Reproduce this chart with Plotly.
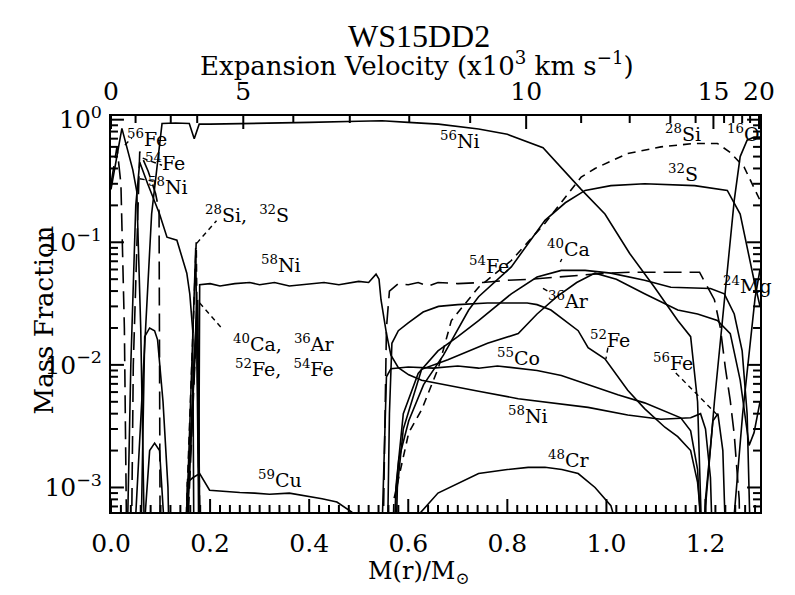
import math
import plotly.graph_objects as go

# ---- abundances: mass coordinate M(r)/Msun and mass fraction (None = gap) ----
m_ni56 = [0.045, 0.05, 0.082, 0.103, 0.13, 0.158, 0.168, 0.178, 0.2, 0.3, 0.4, 0.5, 0.547, 0.6,
          0.661, 0.742, 0.8, 0.872, 0.949, 0.997, 1.047, 1.097, 1.144, 1.17, 1.184, 1.191, 1.196]
x_ni56 = [1e-4, 6e-4, 0.17, 0.93, 0.94, 0.93, 0.7, 0.92, 0.92, 0.93, 0.95, 0.97, 0.98, 0.95,
          0.92, 0.84, 0.76, 0.59, 0.27, 0.17, 0.081, 0.043, 0.023, 0.017, 0.005, 0.0006, 1e-4]

m_fe56 = [0.0, 0.022, 0.044, 0.052, 0.06, 0.066, 0.07, None,
          1.19, 1.2, 1.215, 1.225, 1.235, 1.245]
x_fe56 = [0.27, 0.85, 0.39, 0.26, 0.02, 6e-4, 1e-4, None,
          1e-4, 0.0008, 0.0035, 0.004, 0.002, 1e-4]

m_fe54 = [0.0, 0.012, 0.02, 0.027, 0.031, 0.033, None,
          0.04, 0.045, 0.058, 0.075, 0.09, 0.097, 0.099, 0.1, None,
          0.156, 0.174, 0.179, None,
          0.547, 0.55, 0.556, 0.562, 0.58, 0.6, 0.62, 0.64, 0.66, 0.7, 0.75, 0.8, 0.85, 0.9,
          0.95, 1.0, 1.05, 1.1, 1.15, 1.188, 1.218, 1.23, 1.24, 1.25, 1.258, 1.268, 1.272]
x_fe54 = [0.3, 0.6, 0.3, 0.02, 6e-4, 1e-4, None,
          1e-4, 0.01, 0.55, 0.38, 0.25, 0.18, 6e-4, 1e-4, None,
          6e-4, 0.028, 6e-4, None,
          1e-4, 6e-4, 0.02, 0.04, 0.046, 0.045, 0.047, 0.044, 0.047, 0.046, 0.047, 0.049, 0.05, 0.052,
          0.054, 0.056, 0.057, 0.057, 0.057, 0.057, 0.034, 0.02, 0.0095, 0.0051, 0.0027, 0.0008, 1e-4]

m_ni58 = [0.03, 0.04, 0.05, 0.058, 0.074, 0.098, 0.113, 0.133, 0.153, 0.159, 0.165, 0.168, None,
          0.176, 0.179, 0.2, 0.22, 0.25, 0.28, 0.3, 0.33, 0.36, 0.4, 0.43, 0.46, 0.5, 0.52, 0.535,
          0.541, 0.545, 0.556, 0.565, 0.58, 0.601, 0.627, 0.695, 0.742, 0.822, 0.963, 1.043, 1.11,
          1.17, 1.19, 1.2, 1.21, 1.218]
x_ni58 = [1e-4, 0.01, 0.2, 0.45, 0.3, 0.17, 0.11, 0.104, 0.056, 0.038, 0.019, 1e-4, None,
          1e-4, 0.045, 0.046, 0.044, 0.046, 0.047, 0.045, 0.047, 0.044, 0.046, 0.047, 0.045, 0.048, 0.047, 0.055,
          0.05, 0.034, 0.018, 0.012, 0.0095, 0.0083, 0.0075, 0.0066, 0.0061, 0.0053, 0.0045, 0.0039, 0.0036,
          0.0037, 0.004, 0.003, 0.0012, 1e-4]

m_co55 = [0.058, 0.062, 0.068, 0.078, 0.088, 0.094, 0.105, 0.115, 0.12, None,
          0.545, 0.548, 0.556, 0.565, 0.6, 0.65, 0.7, 0.742, 0.78, 0.808, 0.86, 0.909, 0.96, 1.023,
          1.077, 1.118, 1.15, 1.17, 1.184, 1.19, 1.194]
x_co55 = [1e-4, 6e-4, 0.017, 0.02, 0.019, 0.016, 0.005, 0.001, 1e-4, None,
          1e-4, 6e-4, 0.008, 0.0093, 0.0096, 0.0094, 0.0098, 0.0094, 0.0098, 0.0095, 0.009, 0.0082, 0.007, 0.0057,
          0.0049, 0.0042, 0.0037, 0.0029, 0.0014, 0.0005, 1e-4]

m_cu59 = [0.066, 0.069, 0.078, 0.088, 0.098, 0.106, 0.11, None,
          0.15, 0.152, 0.154, 0.165, 0.179, 0.199, 0.225, 0.26, 0.29, 0.32, 0.36, 0.39, 0.426, 0.456,
          0.486, 0.52]
x_cu59 = [1e-4, 6e-4, 0.002, 0.0023, 0.002, 6e-4, 1e-4, None,
          1e-4, 6e-4, 0.0011, 0.0012, 0.0013, 0.00095, 0.00093, 0.00091, 0.0009, 0.00088, 0.0009, 0.00086,
          0.00081, 0.00076, 0.00063, 0.0003]

m_cr48 = [0.614, 0.621, 0.66, 0.695, 0.742, 0.8, 0.842, 0.876, 0.91, 0.943, 0.977, 1.009, 1.02, 1.03]
x_cr48 = [1e-4, 0.0006, 0.0009, 0.00105, 0.0013, 0.0014, 0.00146, 0.00146, 0.0014, 0.0013, 0.001,
          0.00071, 0.0005, 1e-4]

m_fe52 = [0.153, 0.174, 0.178, None,
          0.556, 0.562, 0.567, 0.58, 0.6, 0.63, 0.661, 0.7, 0.76, 0.84, 0.86, 0.888, 0.943, 0.963,
          0.997, 1.043, 1.077, 1.118, 1.144, 1.17, 1.184, 1.19, 1.195]
x_fe52 = [6e-4, 0.032, 6e-4, None,
          1e-4, 0.004, 0.015, 0.019, 0.022, 0.027, 0.03, 0.031, 0.032, 0.032, 0.031, 0.028, 0.019, 0.0138,
          0.0112, 0.0062, 0.0044, 0.0031, 0.0026, 0.002, 0.0011, 0.0006, 1e-4]

m_ca40 = [0.154, 0.175, 0.179, None,
          0.57, 0.575, 0.59, 0.62, 0.66, 0.7, 0.742, 0.808, 0.86, 0.909, 0.957, 1.009, 1.077, 1.13,
          1.21, 1.238, 1.258, 1.274, 1.284, 1.29, 1.294]
x_ca40 = [6e-4, 0.034, 6e-4, None,
          1e-4, 0.001, 0.004, 0.0085, 0.013, 0.017, 0.023, 0.038, 0.052, 0.059, 0.059, 0.056, 0.049, 0.043,
          0.042, 0.038, 0.026, 0.013, 0.004, 6e-4, 1e-4]

m_ar36 = [0.155, 0.173, 0.178, None,
          0.572, 0.578, 0.59, 0.627, 0.68, 0.76, 0.822, 0.86, 0.9, 0.94, 0.977, 1.02, 1.077, 1.144,
          1.184, 1.224, 1.25, 1.27, 1.288, 1.298, 1.31]
x_ar36 = [6e-4, 0.03, 6e-4, None,
          1e-4, 0.001, 0.003, 0.0092, 0.011, 0.015, 0.018, 0.026, 0.036, 0.047, 0.056, 0.05, 0.038, 0.028,
          0.026, 0.023, 0.018, 0.0075, 0.0022, 0.0028, 0.005]

m_s32 = [0.153, 0.171, 0.177, None,
         0.568, 0.575, 0.581, 0.601, 0.631, 0.671, 0.722, 0.742, 0.808, 0.876, 0.917, 0.957, 1.009,
         1.077, 1.178, 1.244, 1.27, 1.284, 1.298, 1.31]
x_s32 = [6e-4, 0.09, 6e-4, None,
         1e-4, 0.0009, 0.0017, 0.0035, 0.0069, 0.012, 0.028, 0.036, 0.063, 0.151, 0.21, 0.265, 0.29,
         0.3, 0.29, 0.265, 0.17, 0.09, 0.049, 0.03]

m_si28 = [0.152, 0.172, 0.178, None,
          0.566, 0.571, 0.601, 0.627, 0.661, 0.687, 0.742, 0.808, 0.876, 0.917, 0.949, 0.977, 1.043,
          1.11, 1.178, 1.224, 1.25, 1.278, 1.298, 1.31]
x_si28 = [6e-4, 0.1, 6e-4, None,
          1e-4, 0.0008, 0.0028, 0.0043, 0.0095, 0.023, 0.043, 0.071, 0.143, 0.233, 0.34, 0.4, 0.53,
          0.6, 0.64, 0.64, 0.54, 0.41, 0.28, 0.22]

m_o16 = [1.196, 1.2, 1.218, 1.238, 1.258, 1.27, 1.284, 1.298, 1.31]
x_o16 = [1e-4, 0.0007, 0.005, 0.034, 0.22, 0.5, 0.68, 0.72, 0.72]

m_mg24 = [1.25, 1.258, 1.275, 1.29, 1.3, 1.31]
x_mg24 = [1e-4, 6e-4, 0.004, 0.015, 0.035, 0.06]

# top axis: expansion velocity (10^3 km/s) ticks placed at their mass coordinate
vel_labels = ["0", "5", "10", "15", "20"]
vel_label_mass = [0.0, 0.267, 0.838, 1.216, 1.308]
vel_minor_mass = [0.0496, 0.1206, 0.174, 0.368, 0.482, 0.602, 0.725, 0.949, 1.047, 1.129, 1.18,
                  1.2375, 1.256, 1.274, 1.29]

mass_ticks = [0.0, 0.2, 0.4, 0.6, 0.8, 1.0, 1.2]
mass_ticktext = ["0.0", "0.2", "0.4", "0.6", "0.8", "1.0", "1.2"]
mass_minor = [round(i * 0.02, 2) for i in range(1, 66)]

frac_ticks = [1e-3, 1e-2, 1e-1, 1]
frac_ticktext = ["10<sup>−3</sup>", "10<sup>−2</sup>", "10<sup>−1</sup>", "10<sup>0</sup>"]

X_RANGE = [0, 1.31]
Y_RANGE = [-3.2, 0.03]
frac_minor = [k * 10 ** e for e in (-4, -3, -2, -1) for k in range(2, 10)
              if Y_RANGE[0] < math.log10(k * 10 ** e) < Y_RANGE[1]]

SOLID = "solid"
SHORT = "8px,6px"
LONG = "18px,8px"

species = [
    (m_ni56, x_ni56, SOLID), (m_fe56, x_fe56, SOLID), (m_fe54, x_fe54, LONG),
    (m_ni58, x_ni58, SOLID), (m_co55, x_co55, SOLID), (m_cu59, x_cu59, SOLID),
    (m_cr48, x_cr48, SOLID), (m_fe52, x_fe52, SOLID), (m_ca40, x_ca40, SOLID),
    (m_ar36, x_ar36, SOLID), (m_s32, x_s32, SOLID), (m_si28, x_si28, SHORT),
    (m_o16, x_o16, SOLID), (m_mg24, x_mg24, SOLID),
]

fig = go.Figure()
for m, x, dash in species:
    fig.add_trace(go.Scatter(x=m, y=x, mode="lines", hoverinfo="skip",
                             line=dict(color="black", width=1.6, dash=dash)))
# carrier trace so the top (velocity) axis is drawn
fig.add_trace(go.Scatter(x=[0.5], y=[0.5], xaxis="x2", mode="markers",
                         marker=dict(opacity=0), hoverinfo="skip"))

LAB = dict(family="DejaVu Serif", size=19, color="black")
labels = [
    ("<sup>56</sup>Fe", 0.072, 0.71), ("<sup>54</sup>Fe", 0.109, 0.45), ("<sup>58</sup>Ni", 0.115, 0.29),
    ("<sup>28</sup>Si,  <sup>32</sup>S", 0.275, 0.17), ("<sup>58</sup>Ni", 0.344, 0.067),
    ("<sup>54</sup>Fe", 0.762, 0.065), ("<sup>56</sup>Ni", 0.705, 0.68),
    ("<sup>40</sup>Ca,  <sup>36</sup>Ar", 0.35, 0.0152), ("<sup>52</sup>Fe,  <sup>54</sup>Fe", 0.35, 0.0094),
    ("<sup>59</sup>Cu", 0.342, 0.00118), ("<sup>55</sup>Co", 0.822, 0.0115), ("<sup>58</sup>Ni", 0.842, 0.0039),
    ("<sup>48</sup>Cr", 0.923, 0.0017), ("<sup>40</sup>Ca", 0.923, 0.089), ("<sup>36</sup>Ar", 0.923, 0.034),
    ("<sup>52</sup>Fe", 1.007, 0.0164), ("<sup>56</sup>Fe", 1.134, 0.0105), ("<sup>28</sup>Si", 1.154, 0.78),
    ("<sup>32</sup>S", 1.154, 0.37), ("<sup>16</sup>O", 1.276, 0.78), ("<sup>24</sup>Mg", 1.284, 0.045),
]
for text, mx, yv in labels:
    fig.add_annotation(x=mx, y=math.log10(yv), text=text, showarrow=False, font=LAB)

# dashed leader lines from labels to curves
leaders = [
    (0.028, 0.62, 0.042, 0.71), (0.064, 0.485, 0.103, 0.425), (0.058, 0.33, 0.094, 0.31),
    (0.173, 0.098, 0.213, 0.15), (0.179, 0.032, 0.223, 0.02), (0.872, 0.042, 0.886, 0.039),
    (0.907, 0.069, 0.91, 0.073), (1.003, 0.0138, 0.999, 0.0112), (1.14, 0.0086, 1.224, 0.0039),
]
lx, ly = [], []
for x0, y0, x1, y1 in leaders:
    lx += [x0, x1, None]
    ly += [y0, y1, None]
fig.add_trace(go.Scatter(x=lx, y=ly, mode="lines", hoverinfo="skip",
                         line=dict(color="black", width=1.4, dash="5px,4px")))

# inward tick marks on all four sides (PGPLOT style), drawn as line segments
PX_PER_M = 652 / (X_RANGE[1] - X_RANGE[0])
PX_PER_DEC = 396 / (Y_RANGE[1] - Y_RANGE[0])
MAJ, MIN = 13, 7
tx, ty = [], []


def xtick(v, length, top):
    d = length / PX_PER_DEC
    y0, y1 = (Y_RANGE[1], Y_RANGE[1] - d) if top else (Y_RANGE[0], Y_RANGE[0] + d)
    tx.extend([v, v, None])
    ty.extend([10 ** y0, 10 ** y1, None])


def ytick(v, length):
    d = length / PX_PER_M
    tx.extend([X_RANGE[0], X_RANGE[0] + d, None, X_RANGE[1], X_RANGE[1] - d, None])
    ty.extend([v, v, None, v, v, None])


for v in mass_ticks:
    xtick(v, MAJ, False)
for v in mass_minor:
    if v not in mass_ticks:
        xtick(v, MIN, False)
for v in vel_label_mass:
    xtick(v, MAJ, True)
for v in vel_minor_mass:
    xtick(v, MIN, True)
for v in frac_ticks:
    ytick(v, MAJ)
for v in frac_minor:
    ytick(v, MIN)
fig.add_trace(go.Scatter(x=tx, y=ty, mode="lines", hoverinfo="skip", cliponaxis=False,
                         line=dict(color="black", width=2, simplify=False)))

TXT = dict(family="DejaVu Serif", color="black")
fig.add_annotation(text="WS15DD2", x=0.474, y=1.203, xref="paper", yref="paper",
                   xanchor="center", yanchor="middle", showarrow=False,
                   font=dict(family="Liberation Serif", color="black", size=32))
fig.add_annotation(text="Expansion Velocity (x10<sup>3</sup> km s<sup>−1</sup>)", x=0.471, y=1.132,
                   xref="paper", yref="paper", xanchor="center", yanchor="middle",
                   showarrow=False, font=dict(TXT, size=26))
fig.add_annotation(text="Mass Fraction", x=-0.104, y=0.485, xref="paper", yref="paper",
                   xanchor="center", yanchor="middle", textangle=-90, showarrow=False,
                   font=dict(TXT, size=26))
fig.add_annotation(text="M(r)/M<sub>⊙</sub>", x=0.474, y=-0.152, xref="paper", yref="paper",
                   xanchor="center", yanchor="middle", showarrow=False, font=dict(TXT, size=24))

fig.update_layout(
    width=779, height=579, margin=dict(l=103, r=24, t=108, b=75),
    paper_bgcolor="white", plot_bgcolor="white", showlegend=False,
)
AX = dict(ticks="", showline=True, linecolor="black", linewidth=2, showgrid=False,
          zeroline=False, tickfont=dict(TXT, size=25))
fig.update_xaxes(range=X_RANGE, tickmode="array", tickvals=mass_ticks, ticktext=mass_ticktext,
                 ticklabelstandoff=8, **AX)
fig.update_layout(xaxis2=dict(overlaying="x", side="top", range=X_RANGE, tickmode="array",
                              tickvals=vel_label_mass, ticktext=vel_labels, ticklabelstandoff=4, **AX))
fig.update_yaxes(type="log", range=Y_RANGE, mirror=True, tickmode="array",
                 tickvals=frac_ticks, ticktext=frac_ticktext, ticklabelstandoff=2, **AX)

fig.write_html("out.html")
